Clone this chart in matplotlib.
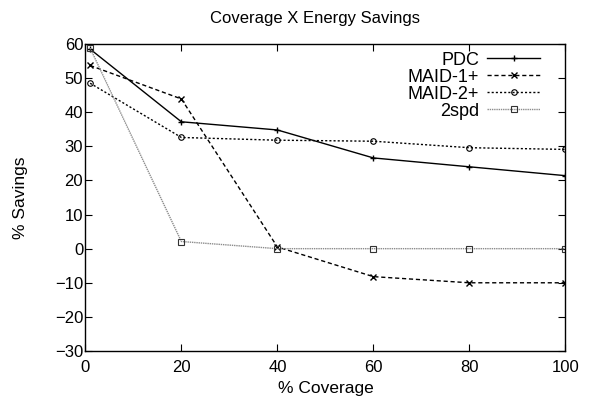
import matplotlib
matplotlib.use('Agg')
import matplotlib.pyplot as plt

coverage = [1, 20, 40, 60, 80, 100]
pdc = [58.5, 37.2, 34.8, 26.6, 24.0, 21.4]
maid1 = [53.7, 43.9, 0.5, -8.2, -10.0, -10.0]
maid2 = [48.5, 32.6, 31.8, 31.5, 29.6, 29.1]
twospd = [58.8, 2.1, 0.0, 0.0, 0.0, 0.0]

plt.rcParams['font.family'] = ['Liberation Sans', 'DejaVu Sans']

fig = plt.figure(figsize=(5.93, 4.09), dpi=100)
ax = fig.add_axes([0.1439, 0.1418, 0.8097, 0.7506])

ax.plot(coverage, pdc, color='black', lw=1, marker='+', ms=5, mew=1, label='PDC')
ax.plot(coverage, maid1, color='black', lw=1, ls=(0, (3, 2)), marker='x', ms=4, mew=1,
        label='MAID-1+')
ax.plot(coverage, maid2, color='black', lw=1, ls=(0, (1.5, 1.5)), marker='o', ms=4,
        mew=0.8, mfc='none', label='MAID-2+')
ax.plot(coverage, twospd, color='#8c8c8c', lw=1, ls=(0, (1, 0.6)), marker='s', ms=4,
        mew=0.8, mfc='none', mec='#333333', label='2spd')

ax.set_xlim(0, 100)
ax.set_ylim(-30, 60)
ax.set_xticks(range(0, 101, 20))
ax.set_yticks(range(-30, 61, 10))
ax.tick_params(direction='in', length=5, width=0.8, top=True, right=True,
               labelsize=12)
ax.tick_params(axis='x', pad=6.5)
ax.tick_params(axis='y', pad=1.5)
for s in ax.spines.values():
    s.set_linewidth(1)

ax.set_title("Coverage X Energy Savings", fontsize=12, pad=15, x=0.479)
ax.set_xlabel("% Coverage", fontsize=12.5)
ax.set_ylabel("% Savings", fontsize=12.5)
ax.xaxis.set_label_coords(0.5, -0.097)
ax.yaxis.set_label_coords(-0.119, 0.5)

ax.legend(loc='upper right', bbox_to_anchor=(0.947, 0.975), frameon=False,
          fontsize=13, markerfirst=False, handlelength=2.93, labelspacing=0.0,
          borderpad=0, borderaxespad=0, handletextpad=0.44)

fig.savefig('out.png', dpi=100)
